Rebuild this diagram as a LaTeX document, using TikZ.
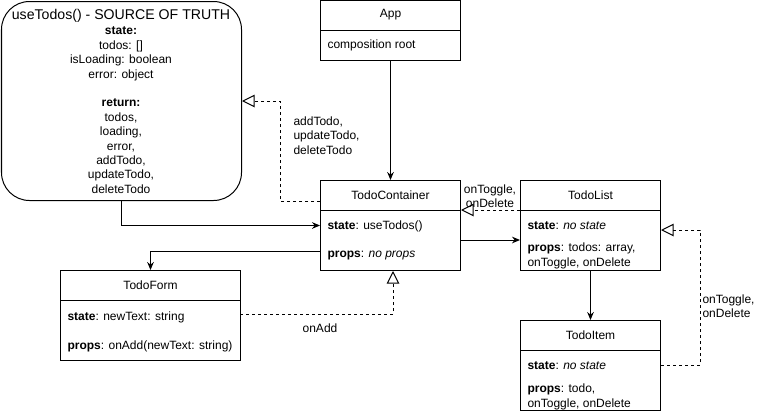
\documentclass[tikz,border=0pt]{standalone}
\usepackage{fontspec}
\setmainfont{Liberation Sans}
\usetikzlibrary{arrows.meta,calc}
\newcommand\ft{\fontsize{9}{10.8}\selectfont}
\begin{document}
\begin{tikzpicture}[x=0.75pt,y=-0.75pt,line width=0.75pt,
  box/.style={draw,rectangle,anchor=north west,inner sep=0pt,minimum width=105pt,minimum height=67.5pt},
  hdr/.style={font=\ft,inner sep=0pt},
  fld/.style={font=\ft,anchor=west,inner sep=0pt,align=left},
  lbl/.style={font=\ft,inner sep=0pt},
  arr/.style={-{Stealth[length=6pt,width=5pt]}},
  dep/.style={dash pattern=on 2.25pt off 2.25pt,-{Triangle[open,length=9.5pt,width=9.5pt]}}]
\useasboundingbox (0,0) rectangle (761,411);

% useTodos
\node[draw,rounded corners=21pt,anchor=north west,inner sep=0pt,minimum width=180pt,minimum height=149.25pt] (use) at (1,1) {};
\node[font=\fontsize{10.6}{12.7}\selectfont,inner sep=0pt] (useT) at (121,16) {useTodos() - SOURCE OF TRUTH};
\node[lbl,align=center,anchor=north] (useB) at (121,26.5) {\textbf{state:}\\todos: []\\isLoading: boolean\\error: object\\[10.8pt]\textbf{return:}\\todos,\\loading,\\error,\\addTodo,\\updateTodo,\\deleteTodo};

% App
\node[box,minimum height=45pt] (app) at (320,0) {};
\draw ($(app.north west)+(0,30)$) -- ($(app.north east)+(0,30)$);
\node[hdr] (appH) at ($(app.north)+(0,15)$) {App};
\node[fld] (appB) at ($(app.north west)+(7,45)$) {composition root};

% TodoContainer
\node[box] (cont) at (320,180) {};
\draw ($(cont.north west)+(0,30)$) -- ($(cont.north east)+(0,30)$);
\node[hdr] (contH) at ($(cont.north)+(0,15)$) {TodoContainer};
\node[fld] (contS) at ($(cont.north west)+(7,46)$) {\textbf{state}: useTodos()};
\node[fld] (contP) at ($(cont.north west)+(7,76)$) {\textbf{props}: \textit{no props}};

% TodoList
\node[box] (list) at (520,180) {};
\draw ($(list.north west)+(0,30)$) -- ($(list.north east)+(0,30)$);
\node[hdr] (listH) at ($(list.north)+(0,15)$) {TodoList};
\node[fld] (listS) at ($(list.north west)+(7,46)$) {\textbf{state}: \textit{no state}};
\node[fld] (listP) at ($(list.north west)+(7,76)$) {\textbf{props}: todos: array,\\onToggle, onDelete};

% TodoItem
\node[box] (item) at (520,320) {};
\draw ($(item.north west)+(0,30)$) -- ($(item.north east)+(0,30)$);
\node[hdr] (itemH) at ($(item.north)+(0,15)$) {TodoItem};
\node[fld] (itemS) at ($(item.north west)+(7,46)$) {\textbf{state}: \textit{no state}};
\node[fld] (itemP) at ($(item.north west)+(7,77)$) {\textbf{props}: todo,\\onToggle, onDelete};

% TodoForm
\node[box,minimum width=135pt] (form) at (60,270) {};
\draw ($(form.north west)+(0,30)$) -- ($(form.north east)+(0,30)$);
\node[hdr] (formH) at ($(form.north)+(0,15)$) {TodoForm};
\node[fld] (formS) at ($(form.north west)+(7,47)$) {\textbf{state}: newText: string};
\node[fld] (formP) at ($(form.north west)+(7,76)$) {\textbf{props}: onAdd(newText: string)};

% connectors
\draw[arr] (app.south) -- (cont.north);
\draw[arr] (use.south) |- (cont.west);
\draw[dep] ($(cont.north west)+(0,21)$) -- (280,201) |- (use.east);
\draw[arr] ($(cont.north west)+(0,71)$) -| (form.north);
\draw[dep] ($(form.north west)+(180,44)$) -| ($(cont.south west)+(73,0)$);
\draw[arr] ($(cont.north east)+(0,60)$) -- ($(list.north west)+(0,60)$);
\draw[dep] ($(list.north west)+(0,30)$) -- ($(cont.north east)+(0,30)$);
\draw[arr] (list.south) -- (item.north);
\draw[dep] ($(item.north east)+(0,45)$) -- (700,365) |- ($(list.north east)+(0,50)$);

% labels
\node[lbl,align=left,anchor=west] (lAdd) at (293,135.5) {addTodo,\\updateTodo,\\deleteTodo};
\node[lbl,align=center] (lTog1) at (490,196) {onToggle,\\onDelete};
\node[lbl] (lOnAdd) at (320,328) {onAdd};
\node[lbl,align=left,anchor=west] (lTog2) at (702,306) {onToggle,\\onDelete};
\end{tikzpicture}
\end{document}
